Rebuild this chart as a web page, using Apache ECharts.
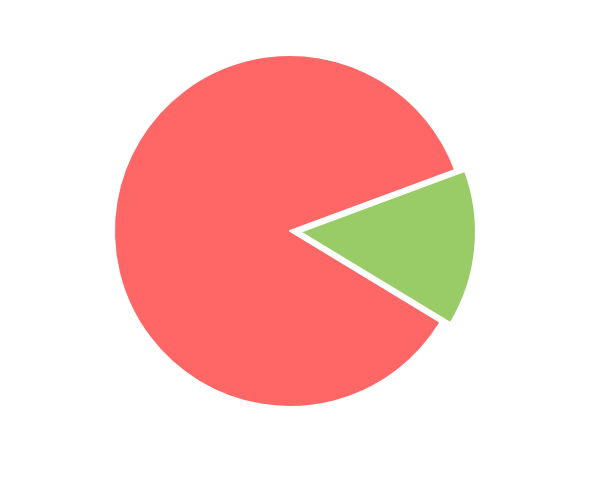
<!DOCTYPE html>
<html>
<head>
<meta charset="utf-8">
<script src="https://cdn.jsdelivr.net/npm/echarts@6/dist/echarts.min.js"></script>
<style>
  html, body { margin: 0; padding: 0; background: #fff; }
  #chart { width: 600px; height: 480px; }
</style>
</head>
<body>
<div id="chart"></div>
<script>
// slice names, values and colours
var names = ['B', 'A'];
var values = [14.3, 85.7];
var colors = ['#99cc66', '#ff6666'];
var selectedSlice = 'B';

function init() {
    var myChart = echarts.init(document.getElementById('chart'));

    var data = names.map(function (n, i) {
        return {
            name: n,
            value: values[i],
            selected: n === selectedSlice,
            itemStyle: { color: colors[i] }
        };
    });

    myChart.setOption({
        animation: false,
        series: [
            {
                type: 'pie',
                center: [290, 231],
                radius: 176,
                startAngle: 20.3,
                clockwise: true,
                selectedMode: 'single',
                selectedOffset: 10,
                label: { show: false },
                labelLine: { show: false },
                itemStyle: { borderColor: '#fff', borderWidth: 2 },
                data: data
            }
        ]
    });
}

document.addEventListener('DOMContentLoaded', function () {
    init();
});
</script>
</body>
</html>
